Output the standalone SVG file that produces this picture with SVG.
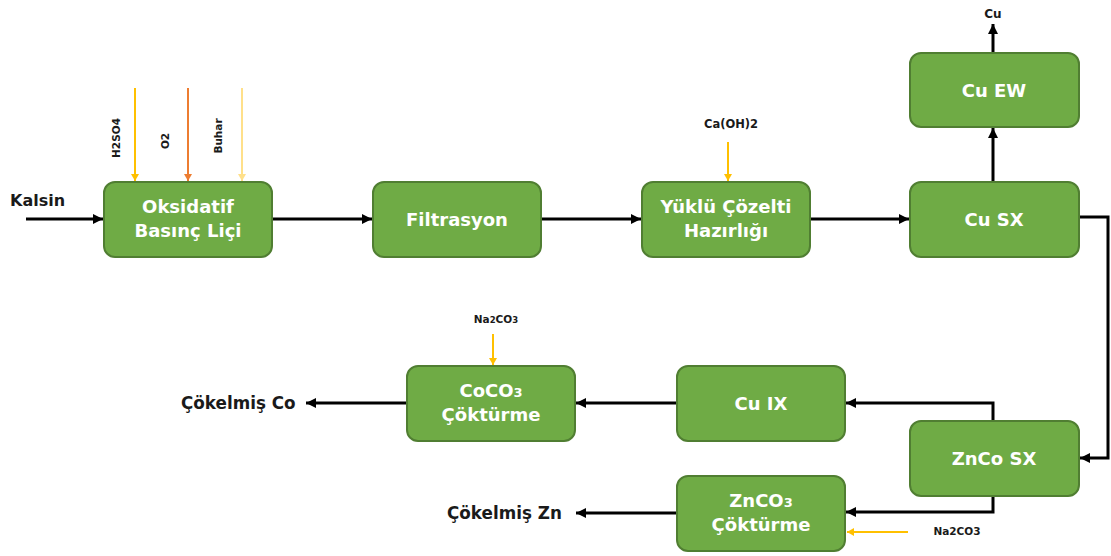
<svg xmlns="http://www.w3.org/2000/svg" width="1111" height="556" viewBox="0 0 1111 556">
<style>
.node rect{fill:#6fab45;stroke:#507e32;stroke-width:2}
.nt{font-family:"DejaVu Sans",sans-serif;font-weight:bold;font-size:18px;fill:#ffffff;text-anchor:middle}
.lbl{font-family:"DejaVu Sans",sans-serif;font-weight:bold;font-size:16.8px;fill:#1a1a1a}
.sm{font-family:"DejaVu Sans",sans-serif;font-weight:bold;font-size:10.5px;fill:#1a1a1a}
.blk{stroke:#000;stroke-width:3;fill:none}
.gold{stroke:#ffc000;stroke-width:2;fill:none}
.org{stroke:#ed7d31;stroke-width:2;fill:none}
.lt{stroke:#ffe08a;stroke-width:2;fill:none}
</style>
<defs>
<marker id="ab" markerUnits="userSpaceOnUse" markerWidth="12" markerHeight="12" refX="10" refY="5" orient="auto"><path d="M0,0 L10,5 L0,10 Z" fill="#000"/></marker>
<marker id="ag" markerUnits="userSpaceOnUse" markerWidth="10" markerHeight="10" refX="7" refY="4" orient="auto"><path d="M0,0 L7,4 L0,8 Z" fill="#ffc000"/></marker>
<marker id="ao" markerUnits="userSpaceOnUse" markerWidth="10" markerHeight="10" refX="7" refY="4" orient="auto"><path d="M0,0 L7,4 L0,8 Z" fill="#ed7d31"/></marker>
<marker id="al" markerUnits="userSpaceOnUse" markerWidth="10" markerHeight="10" refX="7" refY="4" orient="auto"><path d="M0,0 L7,4 L0,8 Z" fill="#ffe08a"/></marker>
</defs>

<g id="connectors">
<line class="blk" x1="26" y1="219" x2="103" y2="219" marker-end="url(#ab)"/>
<line class="blk" x1="272" y1="219" x2="372" y2="219" marker-end="url(#ab)"/>
<line class="blk" x1="541" y1="219" x2="641" y2="219" marker-end="url(#ab)"/>
<line class="blk" x1="810" y1="219" x2="909" y2="219" marker-end="url(#ab)"/>
<line class="blk" x1="993" y1="182" x2="993" y2="128" marker-end="url(#ab)"/>
<line class="blk" x1="993" y1="53" x2="993" y2="24" marker-end="url(#ab)"/>
<polyline class="blk" points="1079,217 1108,217 1108,458 1080,458" marker-end="url(#ab)"/>
<polyline class="blk" points="993,421 993,403 846,403" marker-end="url(#ab)"/>
<line class="blk" x1="677" y1="403" x2="576" y2="403" marker-end="url(#ab)"/>
<line class="blk" x1="407" y1="403" x2="306" y2="403" marker-end="url(#ab)"/>
<polyline class="blk" points="993,496 993,512 846,512" marker-end="url(#ab)"/>
<line class="blk" x1="677" y1="513" x2="576" y2="513" marker-end="url(#ab)"/>
<line class="gold" x1="135" y1="88" x2="135" y2="181" marker-end="url(#ag)"/>
<line class="org" x1="188" y1="88" x2="188" y2="181" marker-end="url(#ao)"/>
<line class="lt" x1="242" y1="88" x2="242" y2="181" marker-end="url(#al)"/>
<line class="gold" x1="728" y1="142" x2="728" y2="181" marker-end="url(#ag)"/>
<line class="gold" x1="493" y1="334" x2="493" y2="365" marker-end="url(#ag)"/>
<line class="gold" x1="908" y1="532" x2="847" y2="532" marker-end="url(#ag)"/>
</g>

<g id="labels">
<text class="lbl" x="10" y="206" style="font-size:16px">Kalsin</text>
<text class="sm" x="993" y="18" text-anchor="middle" style="font-size:12px">Cu</text>
<text class="sm" transform="translate(120,138) rotate(-90)" text-anchor="middle">H2SO4</text>
<text class="sm" transform="translate(169,141) rotate(-90)" text-anchor="middle">O2</text>
<text class="sm" transform="translate(222,136) rotate(-90)" text-anchor="middle">Buhar</text>
<text class="sm" x="731" y="128" text-anchor="middle" style="font-size:11.5px">Ca(OH)2</text>
<text class="sm" x="496" y="323" text-anchor="middle">Na<tspan font-size="8.5">2</tspan>CO<tspan font-size="8.5">3</tspan></text>
<text class="sm" x="957" y="535" text-anchor="middle">Na2CO3</text>
<text class="lbl" x="181" y="409">Çökelmiş Co</text>
<text class="lbl" x="447" y="519">Çökelmiş Zn</text>
</g>

<g id="n-oksidatif" class="node"><rect x="104" y="182" width="168" height="75" rx="11"/><text class="nt" x="188" y="213">Oksidatif</text><text class="nt" x="188" y="237">Basınç Liçi</text></g>
<g id="n-filtrasyon" class="node"><rect x="373" y="182" width="168" height="75" rx="11"/><text class="nt" x="457" y="226">Filtrasyon</text></g>
<g id="n-yuklu" class="node"><rect x="642" y="182" width="168" height="75" rx="11"/><text class="nt" x="726" y="213">Yüklü Çözelti</text><text class="nt" x="726" y="237">Hazırlığı</text></g>
<g id="n-cusx" class="node"><rect x="910" y="182" width="169" height="75" rx="11"/><text class="nt" x="994" y="226">Cu SX</text></g>
<g id="n-cuew" class="node"><rect x="910" y="53" width="169" height="74" rx="11"/><text class="nt" x="994" y="97">Cu EW</text></g>
<g id="n-zncosx" class="node"><rect x="910" y="421" width="169" height="75" rx="11"/><text class="nt" x="994" y="465">ZnCo SX</text></g>
<g id="n-cuix" class="node"><rect x="677" y="366" width="168" height="75" rx="11"/><text class="nt" x="761" y="410">Cu IX</text></g>
<g id="n-coco3" class="node"><rect x="407" y="366" width="168" height="75" rx="11"/><text class="nt" x="491" y="397">CoCO<tspan font-size="13">3</tspan></text><text class="nt" x="491" y="421">Çöktürme</text></g>
<g id="n-znco3" class="node"><rect x="677" y="476" width="168" height="75" rx="11"/><text class="nt" x="761" y="507">ZnCO<tspan font-size="13">3</tspan></text><text class="nt" x="761" y="531">Çöktürme</text></g>
</svg>
